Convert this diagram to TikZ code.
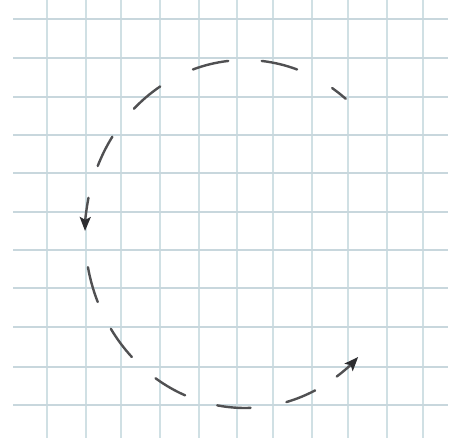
\documentclass[tikz,border=0pt]{standalone}
\usetikzlibrary{arrows.meta}
\definecolor{gridc}{RGB}{200,215,221}
\definecolor{gridv}{RGB}{208,224,228}
\definecolor{inkc}{RGB}{80,80,82}
\definecolor{headc}{RGB}{45,45,48}
\tikzset{
  hline/.style={draw=gridc, line width=1.6pt},
  vline/.style={draw=gridv, line width=1.6pt},
  dashstroke/.style={draw=inkc, line width=2.4pt, line cap=round},
  headed/.style={dashstroke, -{Stealth[length=14pt,width=11pt,inset=3pt,color=headc,fill=headc]}}
}
\newcommand\myarc[3][dashstroke]{%
  \draw[#1] ([shift={(#2:160pt and 174pt)}]C) arc[start angle=#2, end angle=#3, x radius=160pt, y radius=174pt];}
\begin{document}
\begin{tikzpicture}[x=1pt,y=1pt]
\useasboundingbox (0,0) rectangle (464,438);
\fill[white] (0,0) rectangle (464,438);
% grid
\foreach \xx in {47,86,121,160,199,237,273,312,348,387,423}
  \draw[vline] (\xx,0) -- (\xx,438);
\foreach \yy in {419,380,341,303,265,226,188,150,111,71,33}
  \draw[hline] (13,\yy) -- (448,\yy);
% circle of dashes
\coordinate (C) at (245,204);
\myarc{51}{57}
\myarc{71}{84}
\myarc{96}{109}
\myarc{122}{134}
\myarc{146}{157}
\myarc[headed]{168}{179}
\myarc{191}{203}
\myarc{213}{225}
\myarc{236}{248}
\myarc{260}{272}
\myarc{285}{296}
\myarc[headed]{305}{315}
\end{tikzpicture}
\end{document}
